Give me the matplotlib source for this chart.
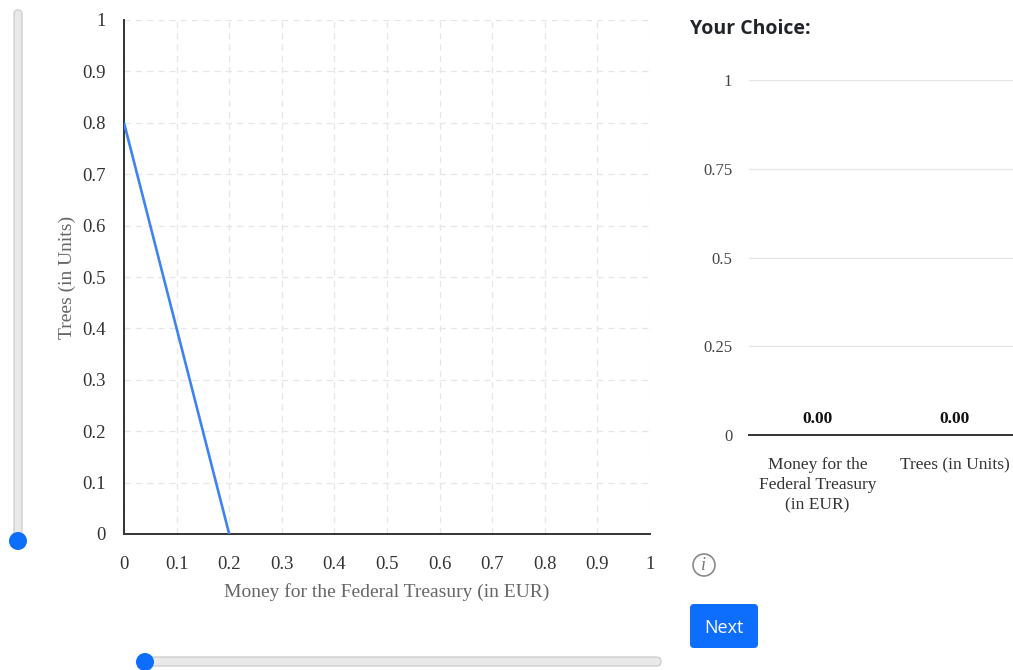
import matplotlib
matplotlib.use("Agg")
import matplotlib.pyplot as plt
from matplotlib.patches import FancyBboxPatch, Circle
import numpy as np

# ---- data ----
line_x = [0.0, 0.2]
line_y = [0.8, 0.0]
main_ticks = [0, 0.1, 0.2, 0.3, 0.4, 0.5, 0.6, 0.7, 0.8, 0.9, 1]
main_tick_labels = ["0", "0.1", "0.2", "0.3", "0.4", "0.5", "0.6", "0.7", "0.8", "0.9", "1"]
x_label = "Money for the Federal Treasury (in EUR)"
y_label = "Trees (in Units)"

bar_categories = ["Money for the\nFederal Treasury\n(in EUR)", "Trees (in Units)"]
bar_values = [0.0, 0.0]
bar_ticks = [0, 0.25, 0.5, 0.75, 1]
bar_tick_labels = ["0", "0.25", "0.5", "0.75", "1"]
title_text = "Your Choice:"
button_text = "Next"

W, H = 1013, 670
SERIF = ["Liberation Serif", "DejaVu Serif"]
SANS = ["Open Sans", "DejaVu Sans"]

def rect(x0, y0, x1, y1):
    # pixel coords (top-left origin) -> figure fraction [l, b, w, h]
    return [x0 / W, 1 - y1 / H, (x1 - x0) / W, (y1 - y0) / H]

fig = plt.figure(figsize=(W / 100, H / 100), dpi=100)

# ---- main line chart ----
ax = fig.add_axes(rect(124, 20, 650, 534))
ax.plot(line_x, line_y, color="#3f83f2", lw=1.9, solid_capstyle="butt", zorder=3)
ax.set_xlim(0, 1)
ax.set_ylim(0, 1)
ax.set_xticks(main_ticks)
ax.set_yticks(main_ticks)
ax.set_xticklabels(main_tick_labels, fontfamily=SERIF, fontsize=13.5, color="#333333")
ax.set_yticklabels(main_tick_labels, fontfamily=SERIF, fontsize=13.5, color="#333333")
ax.tick_params(length=0)
ax.tick_params(axis="x", pad=16)
ax.tick_params(axis="y", pad=13)
ax.grid(True, color="#e6e6e6", lw=0.9, linestyle=(0, (5, 4)))
ax.set_axisbelow(True)
for s in ["top", "right"]:
    ax.spines[s].set_visible(False)
for s in ["left", "bottom"]:
    ax.spines[s].set_color("#333333")
    ax.spines[s].set_linewidth(1.4)
ax.set_xlabel(x_label, fontfamily=SERIF, fontsize=14, color="#666666", labelpad=7)
ax.set_ylabel(y_label, fontfamily=SERIF, fontsize=14, color="#666666", labelpad=5)

# ---- right bar chart ----
bx = fig.add_axes(rect(749, 80, 1023, 435))
xpos = np.arange(len(bar_categories))
bars = bx.bar(xpos, bar_values, width=0.6, color="#3f83f2")
bx.set_xlim(-0.5, 1.5)
bx.set_ylim(0, 1)
bx.set_yticks(bar_ticks)
bx.set_yticklabels(bar_tick_labels, fontfamily=SERIF, fontsize=12, color="#444444")
bx.set_xticks(xpos)
bx.set_xticklabels(bar_categories, fontfamily=SERIF, fontsize=12.5, color="#333333",
                   linespacing=1.35, va="top")
bx.tick_params(length=0)
bx.tick_params(axis="y", pad=12)
bx.tick_params(axis="x", pad=16)
bx.grid(True, axis="y", color="#e6e6e6", lw=1)
bx.set_axisbelow(True)
for s in ["top", "right", "left"]:
    bx.spines[s].set_visible(False)
bx.spines["bottom"].set_color("#333333")
bx.spines["bottom"].set_linewidth(1.4)
for xp, v in zip(xpos, bar_values):
    bx.annotate(f"{v:.2f}", xy=(xp, v), xytext=(0, 6), textcoords="offset points",
                ha="center", va="bottom", fontfamily=SERIF, fontsize=12.5,
                fontweight="bold", color="#111111")

# ---- UI overlay in pixel coordinates ----
ov = fig.add_axes([0, 0, 1, 1], zorder=10)
ov.set_xlim(0, W)
ov.set_ylim(H, 0)
ov.axis("off")
ov.patch.set_alpha(0)

track_fc = "#e9e9e9"
track_ec = "#cfcfcf"
blue = "#0d6efd"

# vertical slider
ov.add_patch(FancyBboxPatch((14, 10), 8, 532, boxstyle="round,pad=0,rounding_size=4",
                            fc=track_fc, ec=track_ec, lw=1))
ov.add_patch(Circle((18, 541), 9, fc=blue, ec="none"))

# horizontal slider
ov.add_patch(FancyBboxPatch((141, 657), 520, 9, boxstyle="round,pad=0,rounding_size=4.5",
                            fc=track_fc, ec=track_ec, lw=1))
ov.add_patch(Circle((145, 662), 9, fc=blue, ec="none"))

# title
ov.text(690, 29, title_text, fontfamily=SANS, fontsize=14, fontweight="bold",
        color="#212529", ha="left", va="center")

# info icon
ov.add_patch(Circle((704, 565), 11, fc="none", ec="#8a8a8a", lw=1.2))
ov.text(704, 566, "i", fontfamily=SERIF, fontstyle="italic", fontsize=13,
        color="#777777", ha="center", va="center")

# Next button
ov.add_patch(FancyBboxPatch((690, 604), 68, 44, boxstyle="round,pad=0,rounding_size=4",
                            fc=blue, ec="none"))
ov.text(724, 628, button_text, fontfamily=SANS, fontsize=13, color="white",
        ha="center", va="center")

fig.savefig("out.png", dpi=100)
